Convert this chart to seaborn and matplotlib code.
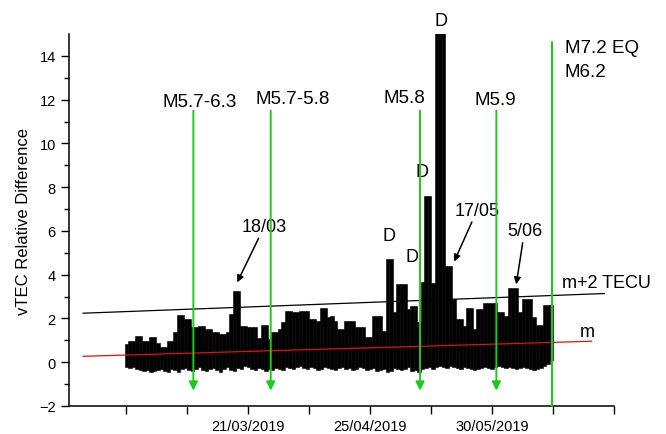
import pandas as pd
import numpy as np
import matplotlib
matplotlib.use('Agg')
import matplotlib.pyplot as plt
import matplotlib.dates as mdates
import seaborn as sns

# ===== data: daily vTEC relative difference (upper / lower edge of each bar) =====
start_day = '2019-02-14'
vtec_top = [0.82, 0.97, 0.97, 1.19, 1.19, 0.97, 0.97, 1.14, 1.14, 0.9,
            0.68, 0.68, 0.97, 0.97, 1.37, 2.14, 2.14, 1.96, 1.96, 1.6,
            1.6, 1.66, 1.66, 1.5, 1.5, 1.38, 1.38, 1.28, 1.3, 1.37,
            2.19, 3.26, 3.26, 1.66, 1.66, 1.6, 1.6, 1.6, 1.1, 1.68,
            1.68, 1.05, 1.37, 1.37, 1.5, 1.83, 2.34, 2.34, 2.3, 2.3,
            2.34, 2.34, 2.34, 1.96, 1.96, 1.9, 2.5, 2.5, 2.05, 2.1,
            1.9, 1.5, 1.5, 1.9, 1.9, 1.9, 1.6, 1.6, 1.6, 1.14,
            1.14, 2.1, 2.1, 2.1, 1.43, 4.7, 4.7, 2.28, 3.56, 3.56,
            3.56, 2.42, 2.56, 2.56, 1.85, 3.65, 7.6, 7.6, 3.6, 15.2,
            15.2, 15.2, 4.4, 4.4, 2.88, 1.96, 1.96, 1.66, 2.46, 2.46,
            1.5, 2.42, 2.42, 2.7, 2.7, 2.7, 2.7, 2.28, 2.28, 2.1,
            3.38, 3.38, 3.38, 2.28, 2.88, 2.88, 2.88, 2.05, 1.69, 1.69,
            2.6, 2.6, 2.6]
vtec_low = [-0.2, -0.25, -0.2, -0.3, -0.35, -0.4, -0.35, -0.45, -0.4, -0.35,
            -0.3, -0.4, -0.45, -0.3, -0.35, -0.45, -0.3, -0.25, -0.35, -0.4,
            -0.3, -0.2, -0.35, -0.4, -0.3, -0.25, -0.35, -0.45, -0.3, -0.2,
            -0.35, -0.4, -0.25, -0.3, -0.15, -0.2, -0.3, -0.35, -0.25, -0.3,
            -0.4, -0.3, -0.35, -0.25, -0.3, -0.35, -0.2, -0.25, -0.3, -0.2,
            -0.15, -0.25, -0.3, -0.2, -0.25, -0.35, -0.3, -0.2, -0.25, -0.3,
            -0.35, -0.25, -0.2, -0.3, -0.25, -0.35, -0.3, -0.2, -0.25, -0.35,
            -0.3, -0.25, -0.4, -0.35, -0.3, -0.45, -0.4, -0.25, -0.3, -0.35,
            -0.3, -0.2, -0.4, -0.35, -0.45, -0.3, -0.25, -0.2, -0.3, -0.2,
            -0.15, -0.2, -0.25, -0.15, -0.2, -0.25, -0.3, -0.2, -0.25, -0.3,
            -0.35, -0.3, -0.25, -0.2, -0.25, -0.3, -0.2, -0.15, -0.2, -0.25,
            -0.2, -0.25, -0.3, -0.25, -0.2, -0.25, -0.3, -0.35, -0.3, -0.25,
            -0.15, -0.1, 0.1]

# earthquakes (green arrows) and main shock line
eq_labels = ['M5.7-6.3', 'M5.7-5.8', 'M5.8', 'M5.9']
eq_times = ['2019-03-05 05:00', '2019-03-27 10:00', '2019-05-09 07:00', '2019-05-31 05:00']
main_eq_time = '2019-06-16 07:00'

# trend lines: mean (m) and threshold (m+2 TECU), two end points each
trend_x = ['2019-02-01 12:00', '2019-07-01 07:00']
upper_y = [2.24, 3.14]
mean_x = ['2019-02-01 12:00', '2019-06-27 14:00']
mean_y = [0.27, 0.96]

tick_labels = ['', '', '21/03/2019', '', '25/04/2019', '', '30/05/2019', '', '']

# ===== figure =====
sns.set_style('ticks')
plt.rcParams['font.family'] = ['Liberation Sans', 'DejaVu Sans']
plt.rcParams['text.color'] = 'black'
plt.rcParams['axes.labelcolor'] = 'black'
plt.rcParams['xtick.color'] = 'black'
plt.rcParams['ytick.color'] = 'black'

days = pd.date_range(start_day, periods=len(vtec_top), freq='D')
df = pd.DataFrame({'date': days, 'top': vtec_top, 'low': vtec_low})

fig = plt.figure(figsize=(6.66, 4.35), dpi=100)
ax = fig.add_axes([0.1036, 0.0644, 0.8184, 0.8551])

ax.bar(df['date'], df['top'] - df['low'], bottom=df['low'], width=1.0,
       color='black', edgecolor='black', linewidth=0.4, zorder=2)

trend = pd.DataFrame({'x': pd.to_datetime(trend_x), 'y': upper_y})
mean_df = pd.DataFrame({'x': pd.to_datetime(mean_x), 'y': mean_y})
sns.lineplot(data=trend, x='x', y='y', color='black', lw=0.9, ax=ax, zorder=3)
sns.lineplot(data=mean_df, x='x', y='y', color='#e01010', lw=0.9, ax=ax, zorder=3)

green = '#1ec81e'
tp = lambda s: mdates.date2num(pd.Timestamp(s))

for t in eq_times:
    ax.annotate('', xy=(tp(t), -1.3), xytext=(tp(t), 11.5),
                arrowprops=dict(arrowstyle='-|>', color=green, lw=1.4,
                                mutation_scale=13, shrinkA=0, shrinkB=0),
                zorder=4)
ax.plot([tp(main_eq_time), tp(main_eq_time)], [-2, 14.65], color=green,
        lw=1.5, zorder=4, clip_on=False)

# earthquake labels
ax.text(tp('2019-03-06 22:00'), 11.9, eq_labels[0], fontsize=13.5, ha='center', va='center')
ax.text(tp('2019-04-02 17:00'), 12.05, eq_labels[1], fontsize=13.5, ha='center', va='center')
ax.text(tp('2019-05-04 17:00'), 12.1, eq_labels[2], fontsize=13.5, ha='center', va='center')
ax.text(tp('2019-05-31 00:00'), 12.0, eq_labels[3], fontsize=13.5, ha='center', va='center')
ax.text(tp('2019-06-19 19:00'), 14.4, 'M7.2 EQ', fontsize=13.5, ha='left', va='center')
ax.text(tp('2019-06-19 19:00'), 13.3, 'M6.2', fontsize=13.5, ha='left', va='center')

# disturbed days and dates
ax.text(tp('2019-05-15 07:00'), 15.6, 'D', fontsize=13, ha='center', va='center')
ax.text(tp('2019-05-09 22:00'), 8.7, 'D', fontsize=13, ha='center', va='center')
ax.text(tp('2019-04-30 10:00'), 5.8, 'D', fontsize=13, ha='center', va='center')
ax.text(tp('2019-05-07 00:00'), 4.85, 'D', fontsize=13, ha='center', va='center')

arrow_kw = dict(arrowstyle='-|>', color='black', lw=1.1, mutation_scale=10,
                shrinkA=0, shrinkB=0)
ax.annotate('18/03', xy=(tp('2019-03-17 19:00'), 3.65), xytext=(tp('2019-03-25 14:00'), 6.2),
            fontsize=13, ha='center', va='center', arrowprops=arrow_kw)
ax.annotate('17/05', xy=(tp('2019-05-19 02:00'), 4.6), xytext=(tp('2019-05-25 17:00'), 6.95),
            fontsize=13, ha='center', va='center', arrowprops=arrow_kw)
ax.annotate('5/06', xy=(tp('2019-06-05 22:00'), 3.56), xytext=(tp('2019-06-08 07:00'), 6.0),
            fontsize=13, ha='center', va='center', arrowprops=arrow_kw)

ax.text(tp('2019-06-18 22:00'), 3.65, 'm+2 TECU', fontsize=13, ha='left', va='center')
ax.text(tp('2019-06-26 10:00'), 1.42, 'm', fontsize=13, ha='center', va='center')

# axes
ax.set_ylim(-2, 15)
ax.set_xlim(tp('2019-01-28 12:00'), tp('2019-07-04 00:00'))
ax.set_yticks(range(-2, 15, 2))
ax.set_yticks(range(-1, 15, 2), minor=True)
ticks = pd.date_range(start_day, periods=len(tick_labels), freq='420h')
ax.set_xticks(mdates.date2num(ticks))
ax.set_xticklabels(tick_labels)
ax.tick_params(axis='both', which='major', length=6, width=1, labelsize=10.5, direction='out')
ax.tick_params(axis='y', which='minor', length=3.5, width=1)
ax.set_ylabel('vTEC Relative Difference', fontsize=12, labelpad=6)
ax.set_xlabel('')
ax.grid(False)
for s in ['top', 'right']:
    ax.spines[s].set_visible(False)
for s in ['left', 'bottom']:
    ax.spines[s].set_linewidth(1.1)
    ax.spines[s].set_color('black')

fig.savefig('out.png', dpi=100)
